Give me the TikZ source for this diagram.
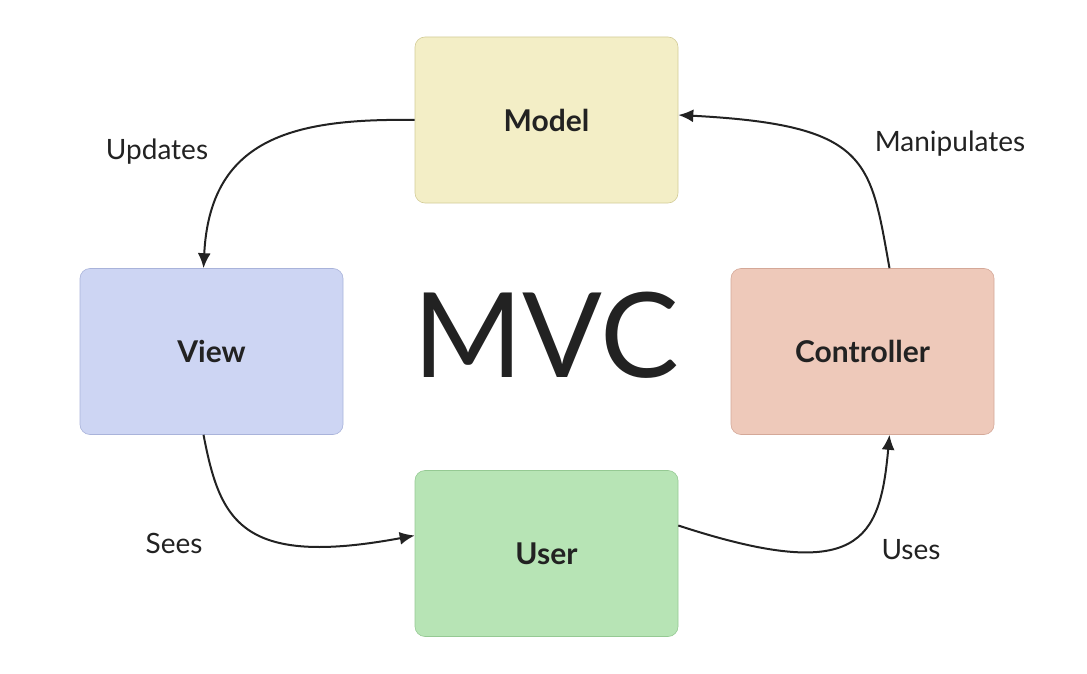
\documentclass[tikz,border=0pt]{standalone}
\usepackage{fontspec}
\setmainfont{Lato}
\usetikzlibrary{arrows.meta}
\definecolor{cm}{HTML}{F3EEC6}\definecolor{bm}{HTML}{D3CC98}
\definecolor{cv}{HTML}{CDD5F3}\definecolor{bv}{HTML}{A9B3DA}
\definecolor{cc}{HTML}{EEC9BA}\definecolor{bc}{HTML}{D4A898}
\definecolor{cu}{HTML}{B7E4B5}\definecolor{bu}{HTML}{95C993}
\definecolor{ink}{HTML}{222222}
\begin{document}
\begin{tikzpicture}[x=1pt,y=-1pt,
 box/.style={draw=#1,line width=0.6pt,rounded corners=10pt,minimum width=263pt,minimum height=166pt,inner sep=0pt,font=\fontsize{30}{36}\selectfont\bfseries,text=ink},
 lab/.style={font=\fontsize{28}{34}\selectfont,text=ink},
 arr/.style={draw=ink,line width=2pt,-{Latex[length=15pt,width=13pt]}}]
\useasboundingbox (0,0) rectangle (1087,674);
\node[box=bm,fill=cm] (model) at (546.5,120) {Model};
\node[box=bv,fill=cv] (view) at (211.5,351.5) {View};
\node[box=bc,fill=cc] (ctrl) at (862.5,351.5) {Controller};
\node[box=bu,fill=cu] (user) at (546.5,553.5) {User};
\node[font=\fontsize{118}{130}\selectfont,text=ink] (mvc) at (546,335) {MVC};
\node[lab] (l1) at (157,152) {Updates};
\node[lab] (l2) at (950,144) {Manipulates};
\node[lab] (l3) at (174,543) {Sees};
\node[lab] (l4) at (911,550) {Uses};
\coordinate (a1) at ([yshift=0pt]model.west);
\coordinate (a2) at ([xshift=-8pt]view.north);
\coordinate (b1) at ([xshift=-8pt]view.south);
\coordinate (b2) at ([yshift=18pt]user.west);
\coordinate (c1) at ([yshift=28pt]user.east);
\coordinate (c2) at ([xshift=27pt]ctrl.south);
\coordinate (d1) at ([xshift=27pt]ctrl.north);
\coordinate (d2) at ([yshift=5pt]model.east);
\draw[arr] (a1) .. controls (290,118) and (210,140) .. (a2);
\draw[arr] (b1) .. controls (220,520) and (240,568) .. (b2);
\draw[arr] (c1) .. controls (860,585) and (880,540) .. (c2);
\draw[arr] (d1) .. controls (870,160) and (870,125) .. (d2);
\end{tikzpicture}
\end{document}
